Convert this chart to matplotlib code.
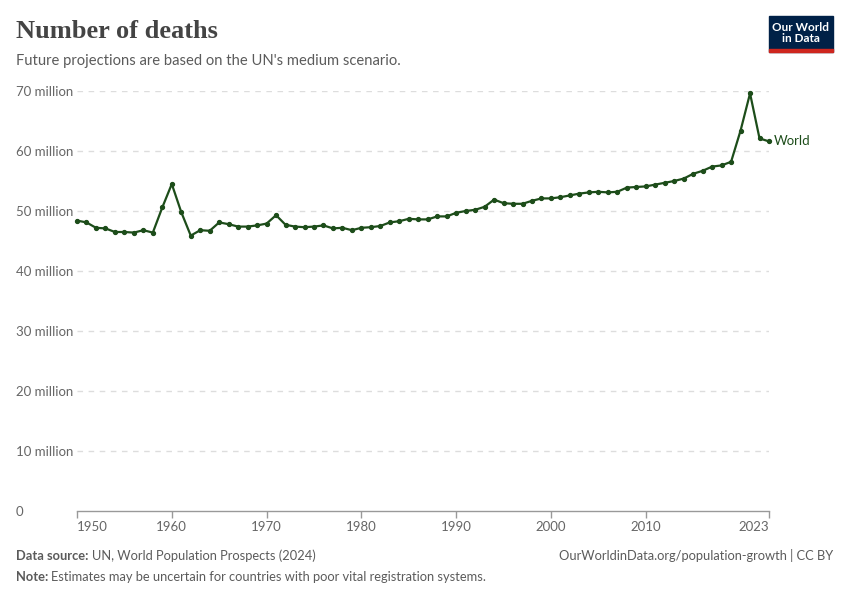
import matplotlib
matplotlib.use("Agg")
import matplotlib.pyplot as plt
from matplotlib.patches import Rectangle

plt.rcParams['font.family'] = ['Lato', 'DejaVu Sans']

# World deaths, millions
years = list(range(1950, 2024))
deaths = [
    48.4, 48.1, 47.2, 47.1, 46.5, 46.5, 46.4, 46.8, 46.4, 50.6,
    54.5, 49.8, 45.9, 46.8, 46.7, 48.1, 47.8, 47.4, 47.4, 47.6,
    47.9, 49.3, 47.7, 47.4, 47.3, 47.4, 47.6, 47.1, 47.2, 46.8,
    47.2, 47.3, 47.5, 48.1, 48.3, 48.7, 48.6, 48.6, 49.1, 49.1,
    49.7, 50.0, 50.2, 50.7, 51.9, 51.3, 51.2, 51.2, 51.7, 52.1,
    52.1, 52.3, 52.6, 52.9, 53.1, 53.2, 53.1, 53.2, 53.9, 54.0,
    54.1, 54.4, 54.7, 55.0, 55.4, 56.2, 56.7, 57.4, 57.6, 58.2,
    63.4, 69.6, 62.1, 61.6,
]
y_ticks = [0, 10, 20, 30, 40, 50, 60, 70]
y_labels = ['0', '10 million', '20 million', '30 million', '40 million',
            '50 million', '60 million', '70 million']
x_ticks = [1950, 1960, 1970, 1980, 1990, 2000, 2010, 2023]

W, H = 850, 600
fig = plt.figure(figsize=(W / 100, H / 100), dpi=100)
fig.patch.set_facecolor('white')

left, right, bottom, top = 77, 769, 511, 91
ax = fig.add_axes([left / W, 1 - bottom / H, (right - left) / W, (bottom - top) / H])

line_color = '#1d4d1a'
ax.plot(years, deaths, color=line_color, lw=1.6, marker='o', ms=2.8, zorder=3, clip_on=False)
ax.text(years[-1] + 0.5, deaths[-1], 'World', color=line_color, fontsize=9.5,
        va='center', ha='left')

ax.set_xlim(1950, 2023)
ax.set_ylim(0, 70)
ax.set_yticks(y_ticks)
ax.set_yticklabels(y_labels)
ax.set_xticks(x_ticks)
ax.set_xticklabels([str(x) for x in x_ticks])

for s in ['top', 'right', 'left']:
    ax.spines[s].set_visible(False)
ax.spines['bottom'].set_color('#999999')
ax.spines['bottom'].set_linewidth(1)

ax.tick_params(axis='y', length=0, pad=44, labelsize=9.5, labelcolor='#666666')
for lab in ax.get_yticklabels():
    lab.set_horizontalalignment('left')
ax.tick_params(axis='x', length=5, width=1, color='#999999', labelsize=9.5,
               labelcolor='#666666', pad=2)
xl = ax.get_xticklabels()
xl[0].set_horizontalalignment('left')
xl[-1].set_horizontalalignment('right')

for v in y_ticks[1:]:
    ax.axhline(v, color='#dddddd', lw=1, ls=(0, (4, 4)), zorder=1)

# header
fig.text(16 / W, 1 - 32 / H, 'Number of deaths', family=['Liberation Serif', 'DejaVu Serif'],
         fontsize=19, fontweight='bold', color='#444444', va='center', ha='left')
fig.text(16 / W, 1 - 61 / H, "Future projections are based on the UN's medium scenario.",
         fontsize=10.6, color='#5b5b5b', va='center', ha='left')

# logo
fig.patches.append(Rectangle((769 / W, 1 - 52 / H), 64 / W, 36 / H,
                             transform=fig.transFigure, color='#002147', zorder=5))
fig.patches.append(Rectangle((769 / W, 1 - 52 / H), 64 / W, 3 / H,
                             transform=fig.transFigure, color='#ce261e', zorder=6))
fig.text(801 / W, 1 - 33 / H, 'Our World\nin Data', color='white', fontsize=8.5,
         fontweight='bold', ha='center', va='center', linespacing=1.0, zorder=7)

# footer
fs = 9.3
renderer = fig.canvas.get_renderer()
t1 = fig.text(16 / W, 1 - 556 / H, 'Data source:', fontsize=fs, fontweight='bold',
              color='#5b5b5b', va='center', ha='left')
bb = t1.get_window_extent(renderer)
fig.text((bb.x1 + 3) / W, 1 - 556 / H, 'UN, World Population Prospects (2024)', fontsize=fs,
         color='#5b5b5b', va='center', ha='left')
t2 = fig.text(16 / W, 1 - 577 / H, 'Note:', fontsize=fs, fontweight='bold',
              color='#5b5b5b', va='center', ha='left')
bb = t2.get_window_extent(renderer)
fig.text((bb.x1 + 3) / W, 1 - 577 / H,
         'Estimates may be uncertain for countries with poor vital registration systems.',
         fontsize=fs, color='#5b5b5b', va='center', ha='left')
fig.text(833 / W, 1 - 556 / H, 'OurWorldinData.org/population-growth | CC BY', fontsize=fs,
         color='#5b5b5b', va='center', ha='right')

fig.savefig('out.png', dpi=100)
